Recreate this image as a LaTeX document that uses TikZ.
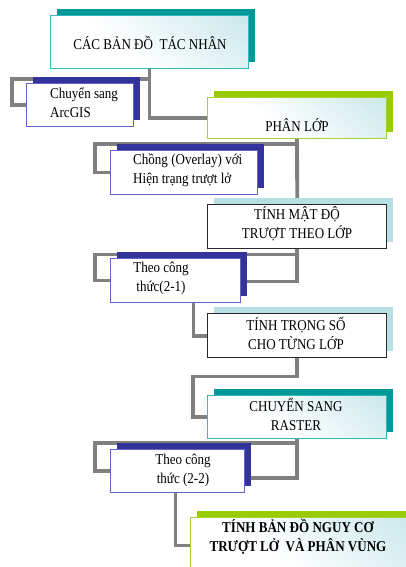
\documentclass[tikz,border=0pt]{standalone}
\usepackage{fontspec}
\setmainfont{Liberation Serif}[FakeStretch=0.87]
\usetikzlibrary{shadows,backgrounds}

\definecolor{tealsh}{RGB}{0,153,153}
\definecolor{tealln}{RGB}{50,185,185}
\definecolor{bluesh}{RGB}{51,51,153}
\definecolor{blueln}{RGB}{100,100,200}
\definecolor{greensh}{RGB}{153,204,0}
\definecolor{greenln}{RGB}{165,210,50}
\definecolor{cyansh}{RGB}{183,222,226}
\definecolor{darkln}{RGB}{40,40,40}
\definecolor{fadecyan}{RGB}{185,224,228}
\definecolor{linkgray}{RGB}{128,128,128}
\pgfdeclareverticalshading{boxfade}{100bp}{color(0bp)=(white); color(40bp)=(white); color(100bp)=(fadecyan)}

\begin{document}
\begin{tikzpicture}[x=1pt,y=-1pt,
    box/.style={rectangle,anchor=north west,inner sep=0pt,line width=1.1pt},
    fadebox/.style={box,draw=#1ln,shade,shading=boxfade,shading angle=-40,
        general shadow={fill=#1sh,shadow xshift=6.5pt,shadow yshift=6.5pt}},
    plainbox/.style={box,draw=#1ln,fill=white,
        general shadow={fill=#1sh,shadow xshift=6.5pt,shadow yshift=6.5pt}},
    darkbox/.style={box,draw=darkln,fill=white,line width=1.4pt,
        general shadow={fill=cyansh,shadow xshift=6.5pt,shadow yshift=6.5pt}},
    txt/.style={inner sep=0pt,align=center,font=\fontsize{15}{19}\selectfont},
    link/.style={draw=linkgray,line width=3.8pt}]

    \useasboundingbox (0,0) rectangle (405,567);

    \node[fadebox=teal, minimum width=198pt, minimum height=53pt] (tacnhan) at (50,15) {};
    \node[plainbox=blue, minimum width=107pt, minimum height=43pt] (arcgis) at (26,83) {};
    \node[fadebox=green, minimum width=179pt, minimum height=41pt] (phanlop) at (207,97) {};
    \node[plainbox=blue, minimum width=147pt, minimum height=44pt] (overlay) at (110,150) {};
    \node[darkbox, minimum width=179pt, minimum height=44pt] (matdo) at (207,204) {};
    \node[plainbox=blue, minimum width=130pt, minimum height=44pt] (theo1) at (110,258) {};
    \node[darkbox, minimum width=179pt, minimum height=44pt] (trongso) at (207,313) {};
    \node[fadebox=teal, minimum width=179pt, minimum height=43pt] (raster) at (207,395) {};
    \node[plainbox=blue, minimum width=134pt, minimum height=43pt] (theo2) at (110,449) {};
    \node[fadebox=green, minimum width=220pt, minimum height=56pt] (nguyco) at (190,517) {};

    \node[txt] (tacnhan-t) at (150,43) {CÁC BẢN ĐỒ\ \ TÁC NHÂN};
    \node[txt,anchor=west,align=left] (arcgis-t) at (50,103) {Chuyển sang\\ArcGIS};
    \node[txt] (phanlop-t) at (297,125) {PHÂN LỚP};
    \node[txt,anchor=west,align=left] (overlay-t) at (133,170) {Chồng (Overlay) với\\Hiện trạng trượt lở};
    \node[txt] (matdo-t) at (297,224) {TÍNH MẬT ĐỘ\\TRƯỢT THEO LỚP};
    \node[txt] (theo1-t) at (161,278) {Theo công\\thức(2-1)};
    \node[txt] (trongso-t) at (296,333) {TÍNH TRỌNG SỐ\\CHO TỪNG LỚP};
    \node[txt] (raster-t) at (296,414) {CHUYỂN SANG\\RASTER};
    \node[txt] (theo2-t) at (183,470) {Theo công\\ thức (2-2)};
    \node[txt,font=\fontsize{15}{19}\selectfont\bfseries] (nguyco-t) at (298,537) {TÍNH BẢN ĐỒ NGUY CƠ\\TRƯỢT LỞ\ \ VÀ PHÂN VÙNG};

    \begin{scope}[on background layer]
        \draw[link] (tacnhan.south) -- ++(0,10) -| ([xshift=-14pt]arcgis.west) -- (arcgis.west);
        \draw[link] (tacnhan.south) |- (phanlop.west);
        \draw[link] (phanlop.south) -- ++(0,5) -| ([xshift=-15pt]overlay.west) -- (overlay.west);
        \draw[link] (phanlop.south) -- (matdo.north);
        \draw[link] (matdo.south) -- ++(0,5) -| ([xshift=-15pt]theo1.west) -- (theo1.west);
        \draw[link] (matdo.south) |- ([yshift=-1pt]theo1.east);
        \draw[link] ([xshift=18pt]theo1.south) |- (trongso.west);
        \draw[link] (trongso.south) -- ++(0,18) -| ([xshift=-14pt]raster.west) -- (raster.west);
        \draw[link] (raster.south) -- ++(0,4) -| ([xshift=-15pt]theo2.west) -- (theo2.west);
        \draw[link] (raster.south) |- ([yshift=-7pt]theo2.east);
        \draw[link] ([xshift=-2pt]theo2.south) |- (nguyco.west);
    \end{scope}
\end{tikzpicture}
\end{document}
